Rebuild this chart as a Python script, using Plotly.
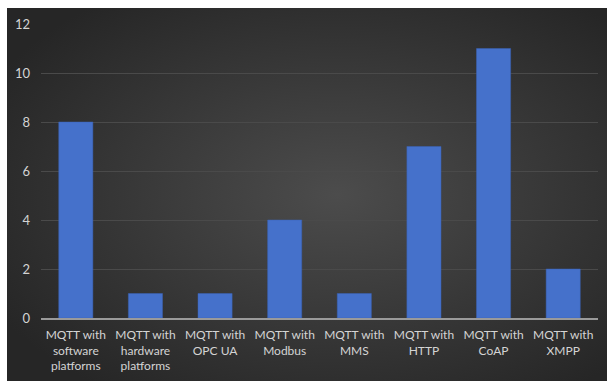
import base64
import plotly.graph_objects as go

categories = ["MQTT with<br>software<br>platforms", "MQTT with<br>hardware<br>platforms",
              "MQTT with<br>OPC UA", "MQTT with<br>Modbus", "MQTT with<br>MMS",
              "MQTT with<br>HTTP", "MQTT with<br>CoAP", "MQTT with<br>XMPP"]
values = [8, 1, 1, 4, 1, 7, 11, 2]
y_ticks = [0, 2, 4, 6, 8, 10, 12]

svg = ('<svg xmlns="http://www.w3.org/2000/svg" width="600" height="373" preserveAspectRatio="none">'
       '<defs><radialGradient id="g" cx="55%" cy="50%" r="65%">'
       '<stop offset="0" stop-color="#4c4c4c"/><stop offset="1" stop-color="#262626"/>'
       '</radialGradient></defs><rect width="600" height="373" fill="url(#g)"/></svg>')
src = "data:image/svg+xml;base64," + base64.b64encode(svg.encode()).decode()

W, H = 607, 381
ml, mr, mt, mb = 41, 9, 24, 63
pw, ph = W - ml - mr, H - mt - mb

fig = go.Figure(go.Bar(
    x=categories, y=values, width=0.49,
    marker=dict(color="#4571cb", line=dict(color="#3a62b4", width=0.5)),
))

fig.add_layout_image(dict(
    source=src, xref="paper", yref="paper",
    x=(7 - ml) / pw, y=(H - mb - 8) / ph,
    sizex=(W - 7) / pw, sizey=(H - 8) / ph,
    sizing="stretch", xanchor="left", yanchor="top", layer="below",
))

fig.update_layout(
    width=W, height=H,
    margin=dict(l=ml, r=mr, t=mt, b=mb, autoexpand=False),
    paper_bgcolor="white", plot_bgcolor="rgba(0,0,0,0)",
    showlegend=False, bargap=0.51,
    font=dict(family="Lato, Carlito, sans-serif", size=13, color="#d4d4d4"),
    xaxis=dict(showgrid=False, zeroline=False, showline=True, linecolor="#9a9a9a",
               linewidth=1.5, ticks="", tickfont=dict(size=12, color="#d4d4d4"),
               ticklabelstandoff=5, automargin=False),
    yaxis=dict(range=[0, 12], tickvals=y_ticks, showgrid=True, gridcolor="#4a4a4a",
               gridwidth=1, zeroline=False, showline=False, ticks="",
               tickfont=dict(size=13, color="#d4d4d4"), ticklabelstandoff=10,
               automargin=False),
)

fig.write_html("out.html")
